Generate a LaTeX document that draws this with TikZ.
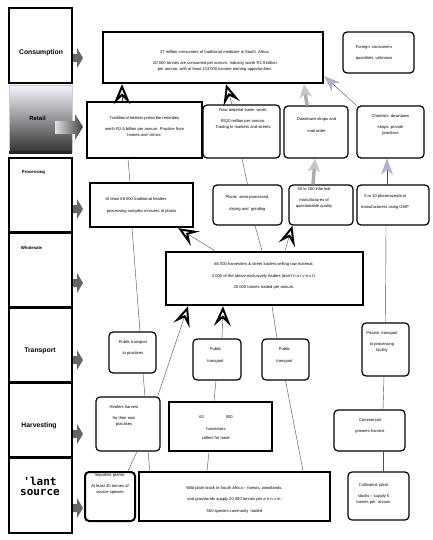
\documentclass[tikz,border=0pt]{standalone}
\usepackage{fontspec}
\setmainfont{Liberation Sans}
\newfontfamily\srcfont{DejaVu Sans Mono}
\usetikzlibrary{arrows.meta}

\begin{document}
\begin{tikzpicture}[x=1pt,y=-1pt,
    stage/.style={draw,line width=2.2pt,minimum width=63,inner sep=0},
    hard/.style={draw,line width=2.4pt,inner sep=0},
    soft/.style={draw,line width=1.2pt,rounded corners=4pt,inner sep=0},
    txt/.style={align=center,font=\fontsize{4.1}{6}\selectfont,inner sep=0},
    head/.style={font=\bfseries\fontsize{6.8}{8}\selectfont,inner sep=0},
    link/.style={draw=gray!60!black,line width=0.4pt},
    bigtip/.style={link,-{Stealth[open,length=20pt,width=17pt,inset=8pt,line width=2pt,color=black]}},
    greytip/.style={draw=gray!65,line width=3.5pt,-{Stealth[length=13pt,width=12pt,inset=3pt,color=gray!45]}},
    bluetip/.style={link,-{Stealth[length=16pt,width=12pt,inset=5pt,color=blue!25!gray!50]}}]
    \fill[white] (0,0) rectangle (433,540);
    \useasboundingbox (0,0) rectangle (433,540);

    % stages
    \node[stage,minimum height=75] (consumption) at (40.5,45.5) {};
    \node[minimum width=63,minimum height=67,draw=gray!40,line width=0.6pt,
          top color=blue!4!white,middle color=gray!60,bottom color=black!80] (retail) at (40.5,118.5) {};
    \draw[line width=3pt,black!85] (retail.south west) -- (retail.south east);
    \node[stage,minimum height=74] (processing) at (40.5,195) {};
    \node[stage,minimum height=74] (wholesale) at (40.5,270) {};
    \node[stage,minimum height=74] (transport) at (40.5,345) {};
    \node[stage,minimum height=74] (harvesting) at (40.5,420) {};
    \node[stage,minimum height=75] (plantsrc) at (40.5,495.5) {};

    \node[head] (consumption-l) at (41,53) {Consumption};
    \node[head,font=\bfseries\fontsize{6}{7}\selectfont] (retail-l) at (37.5,118) {Retail};
    \node[head,font=\bfseries\fontsize{4.3}{5}\selectfont] (processing-l) at (33.5,172) {Processing};
    \node[head,font=\bfseries\fontsize{4.3}{5}\selectfont] (wholesale-l) at (31.5,248) {Wholesale};
    \node[head] (transport-l) at (40,350.5) {Transport};
    \node[head] (harvesting-l) at (39,425.5) {Harvesting};
    \node[head,font=\srcfont\bfseries\fontsize{11}{10}\selectfont,align=center] (plantsrc-l) at (40,486) {'lant\\source};

    % little arrows
    \foreach \y in {58,209,283,360,434,508}
        \fill[black!60] (73,\y-4) -- (77,\y-4) -- (77,\y-10) -- (83,\y) -- (77,\y+10) -- (77,\y+4) -- (73,\y+4) -- cycle;
    \shade[left color=gray!25,right color=black!75] (55,121) -- (75,121) -- (75,114) -- (83,127) -- (75,140) -- (75,134) -- (55,134) -- cycle;

    % boxes
    \node[hard,minimum width=220,minimum height=51] (cons) at (213,57.5) {};
    \node[soft,minimum width=71,minimum height=41] (foreign) at (378.5,52.5) {};
    \node[hard,minimum width=115,minimum height=56] (healers) at (144.5,130) {};
    \node[soft,minimum width=77,minimum height=53] (rawtrade) at (241.5,131.5) {};
    \node[soft,minimum width=64,minimum height=52] (downtown) at (316,132) {};
    \node[soft,minimum width=67,minimum height=52] (chemists) at (390.5,132) {};
    \node[hard,minimum width=103,minimum height=44] (mixing) at (141.5,205) {};
    \node[soft,minimum width=69,minimum height=40] (semi) at (247.5,205) {};
    \node[soft,minimum width=64,minimum height=40] (informal) at (321,205) {};
    \node[soft,minimum width=72,minimum height=40] (pharma) at (393,205) {};
    \node[hard,minimum width=197,minimum height=53] (traders) at (264.5,278.5) {};
    \node[soft,minimum width=47,minimum height=41] (busa) at (132.5,352.5) {};
    \node[soft,minimum width=48,minimum height=41] (busb) at (217,359.5) {};
    \node[soft,minimum width=47,minimum height=41] (busc) at (285.5,359.5) {};
    \node[soft,minimum width=47,minimum height=53] (private) at (385.5,349.5) {};
    \node[soft,minimum width=64,minimum height=54] (selfharvest) at (128,424) {};
    \node[hard,minimum width=103,minimum height=49] (harvesters) at (220.5,426.5) {};
    \node[soft,minimum width=71,minimum height=41] (growers) at (369.5,430.5) {};
    \node[soft,line width=2pt,minimum width=50,minimum height=49] (imported) at (110,496.5) {};
    \node[hard,minimum width=191,minimum height=49] (wild) at (234.5,496.5) {};
    \node[soft,minimum width=61,minimum height=48] (cultivated) at (378.5,496) {};

    % texts
    \node[txt] (cons-t) at (215,60.5) {27 million consumers of traditional medicine in South\ \ Africa.\\[5pt]
        20 000 tonnes are consumed per annum. Industry worth R2.9 billion\\per annum, with at least 133 000 income earning opportunities.};
    \node[txt] (foreign-t) at (374,52.5) {Foreign\ \ consumers\\[5pt]quantities\ \ unknown};
    \node[txt] (healers-t) at (144.5,126.5) {Traditional healers prescribe remedies\\[5pt]worth R2.6 billion per annum. Practice from\\homes and `clinics'};
    \node[txt] (rawtrade-t) at (243,118.5) {Raw material trade: worth\\[5pt]R520 million per annum.\\Trading in markets and streets};
    \node[txt] (downtown-t) at (316.5,125) {Downtown shops and\\[6pt]mail order};
    \node[txt] (chemists-t) at (390.5,124.5) {Chemists, downtown\\[5pt]shops, private\\practices};
    \node[txt,align=left] (mixing-t) at (141,205) {At least 68 000 traditional healers\\[6pt]\ processing complex mixtures of plants};
    \node[txt] (semi-t) at (247.5,203) {Plants\ \ semi-processed,\\[6pt]drying and\ \ grinding};
    \node[txt] (informal-t) at (314,197.5) {50 to 100 informal\\[5pt]manufactures of\\questionable quality};
    \node[txt] (pharma-t) at (385,201.5) {5 to 10 pharmaceutical\\[5pt]manufacturers using GMP};
    \node[txt] (traders-t) at (264,275.5) {66 000 harvesters \& street traders selling raw material.\\[6pt]
        3 000 of the above exclusively traders (don't h a r v e s t).\\[5pt]20 000 tonnes traded per annum.};
    \node[txt] (busa-t) at (133,347.5) {Public transport\\[5pt]to practices};
    \node[txt] (busb-t) at (215.5,355) {Public\\[6pt]transport};
    \node[txt] (busc-t) at (284.5,355) {Public\\[6pt]transport};
    \node[txt] (private-t) at (382,341.5) {Private\ \ transport\\[5pt]to processing\\facility};
    \node[txt] (selfharvest-t) at (124,415.5) {Healers harvest\\[5pt]for their own\\practices};
    \node[txt] (harvesters-t) at (216,427.5) {63\hspace{22pt}000\\[6pt]harvesters\\[3pt]collect for trade};
    \node[txt] (growers-t) at (370,425.5) {Commercial\\[5pt]growers harvest};
    \node[txt] (imported-t) at (110,483.5) {Imported\ \ plants:\\[5pt]At least 40 tonnes of\\source species};
    \node[txt] (wild-t) at (234.5,499.5) {Wild plant stock in South Africa -- forests, woodlands,\\[5pt]
        and grasslands supply 20 000 tonnes per a n n u m.\\[6pt]550 species commonly\ \ traded};
    \node[txt] (cultivated-t) at (373.5,493.5) {Cultivated\ \ plant\\[5pt]stocks -- supply 5\\tonnes per\ \ annum};

    % connectors
    \draw[bigtip] ([xshift=-22.5]healers.north) -- ([xshift=-91]cons.south);
    \draw[bigtip] ([xshift=-9.5]rawtrade.north) -- ([xshift=13]cons.south);
    \draw[greytip] ([xshift=-9]downtown.north) -- ([xshift=91]cons.south);
    \draw[bluetip] (chemists.north west) -- ([yshift=8]cons.south east);
    \draw[link] ([xshift=-16.5]healers.south) -- ([xshift=-11.5]mixing.north);
    \draw[link] ([xshift=0.5]rawtrade.south) -- (semi.north);
    \draw[greytip] ([xshift=-8]informal.north) -- ([xshift=-1]downtown.south);
    \draw[bluetip] ([xshift=-6]pharma.north) -- ([xshift=-3.5]chemists.south);
    \draw[bigtip] ([xshift=-49.5]traders.north) -- ([xshift=-16]mixing.south east);
    \draw[link] ([xshift=7.5]semi.south) -- ([xshift=-2.5]traders.north);
    \draw[bigtip] ([xshift=20.5]traders.north) -- ([xshift=4]informal.south west);
    \draw[link] ([xshift=7.5]busa.north) -- ([xshift=-9.5]mixing.south);
    \draw[bigtip] ([xshift=5]busb.north) -- ([xshift=-41.5]traders.south);
    \draw[link] ([xshift=-8.5]busc.north) -- ([xshift=7.5]traders.south);
    \draw[link] (private.north) -- ([xshift=-7]pharma.south);
    \draw[link] ([xshift=17]selfharvest.north) -- ([xshift=10.5]busa.south);
    \draw[bigtip] ([xshift=-3]selfharvest.north east) -- ([xshift=-76.5]traders.south);
    \draw[link] ([xshift=-6.5]harvesters.north) -- ([xshift=-1]busb.south);
    \draw[link] ([xshift=13.5]growers.north) -- ([xshift=-1.5]private.south);
    \draw[link] ([xshift=18]imported.north) -- ([xshift=9]selfharvest.south);
    \draw[link] ([xshift=12]wild.north west) -- ([xshift=20]selfharvest.south);
    \draw[link] ([xshift=-27.5]wild.north) -- ([xshift=-11.5]harvesters.south);
    \draw[link] ([xshift=68.5]wild.north) -- (busc.south);
    \draw[link] ([xshift=4.5]cultivated.north) -- ([xshift=13.5]growers.south);
\end{tikzpicture}
\end{document}
